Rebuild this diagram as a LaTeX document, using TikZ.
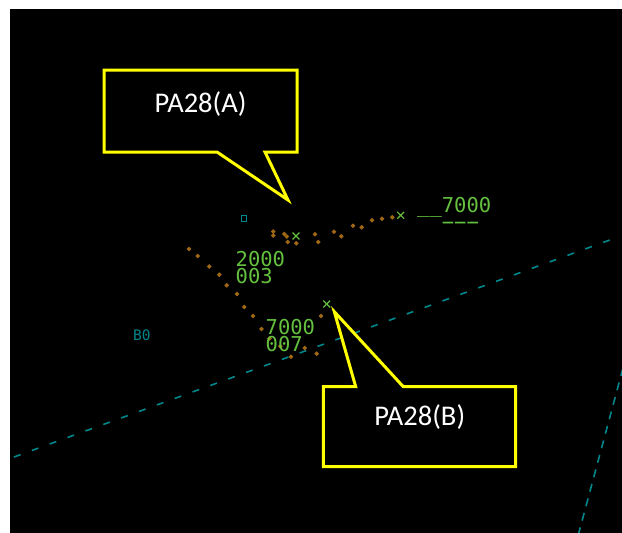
\documentclass[tikz,border=0pt]{standalone}
\usepackage{fontspec}
\setmonofont{DejaVu Sans Mono}
\newfontfamily\calloutfont{Carlito}
\usetikzlibrary{shapes.geometric}

\definecolor{radarteal}{RGB}{0,135,140}
\definecolor{radargreen}{RGB}{100,192,62}
\definecolor{trailorange}{RGB}{160,104,20}
\definecolor{calloutyellow}{RGB}{255,255,0}

\tikzset{
  boundary/.style={radarteal, line width=1.6pt},
  tag/.style={radargreen, inner sep=0pt, anchor=base west, align=left,
    font=\ttfamily\fontsize{20.5}{17.5}\selectfont},
  trailpt/.style={diamond, fill=trailorange, inner sep=0pt, minimum size=5pt},
  plotmark/.style={radargreen, line width=1.2pt},
  callout/.style={draw=calloutyellow, fill=black, line width=3pt, line join=miter},
  callouttext/.style={white, inner sep=0pt, anchor=base,
    font=\calloutfont\fontsize{28.5}{28.5}\selectfont},
}

\begin{document}
\begin{tikzpicture}[x=1pt, y=-1pt]
\useasboundingbox (0,0) rectangle (622,533);
\fill[white] (0,0) rectangle (622,533);
\fill[black] (10,9) rectangle (622,533);

\begin{scope}
\clip (10,9) rectangle (622,533);
% airspace boundaries
\coordinate (bndAw) at (14,457);
\coordinate (bndAe) at (618,237);
\coordinate (bndBn) at (623,368);
\coordinate (bndBs) at (578,536);
\draw[boundary, dash pattern=on 7pt off 12pt] (bndAw) -- (bndAe);
\draw[boundary, dash pattern=on 8pt off 7pt] (bndBn) -- (bndBs);
\end{scope}

% fixed point symbol and sector label
\node[draw=radarteal, line width=1.3pt, minimum size=5.5pt, inner sep=0pt] (fix) at (244,218.5) {};
\node[radarteal, inner sep=0pt, anchor=base west,
      font=\ttfamily\fontsize{14.5}{14.5}\selectfont] (sector) at (133,340.5) {B0};

% history trails
\foreach \x/\y [count=\i] in {
  189/249, 197.7/256, 209.3/266.5, 219.3/274.7, 226.7/285.3, 237/294,
  244.3/307, 253/316, 261.5/329, 269.5/338.5, 280.3/346.3, 291/356.7,
  304.7/348, 316.7/353.7, 321/316} {
  \node[trailpt] (trB\i) at (\x,\y) {};
}
\foreach \x/\y [count=\i] in {
  273.3/231.5, 273.3/235.5, 284.3/234, 286.7/236.5, 287.7/242, 296.3/243.3,
  315/234.3, 318.3/242, 334/231.7, 341.3/236.3, 353/225.7, 361.7/227.3,
  372/220.3, 382/218.7, 392.3/217.3} {
  \node[trailpt] (trA\i) at (\x,\y) {};
}

% present positions
\foreach \n/\x/\y in {posA/296/236, posC/400.7/215.3, posB/326.7/304} {
  \coordinate (\n) at (\x,\y);
  \draw[plotmark] (\x,\y) +(-3.4,-3.4) -- +(3.4,3.4) +(-3.4,3.4) -- +(3.4,-3.4);
}

% data blocks (anchored on the baseline of their last line)
\node[tag] (lblC) at (417,229.5) {\_\_7000\\\ \ −−−};
\node[tag] (lblA) at (235.5,283.5) {2000\\003};
\node[tag] (lblB) at (265.5,351.5) {7000\\007};

% callouts
\coordinate (tipA) at (288,200);
\coordinate (tipB) at (334.3,311.7);
\draw[callout] (104,70) -- (297,70) -- (297,152) -- (265,152) -- (tipA)
  -- (217,152) -- (104,152) -- cycle;
\draw[callout] (323.3,386.7) -- (355.7,386.7) -- (tipB) -- (403.3,386.7)
  -- (515.7,386.7) -- (515.7,466.7) -- (323.3,466.7) -- cycle;
\node[callouttext] (textA) at (200.5,112) {PA28(A)};
\node[callouttext] (textB) at (419.7,425) {PA28(B)};
\end{tikzpicture}
\end{document}
